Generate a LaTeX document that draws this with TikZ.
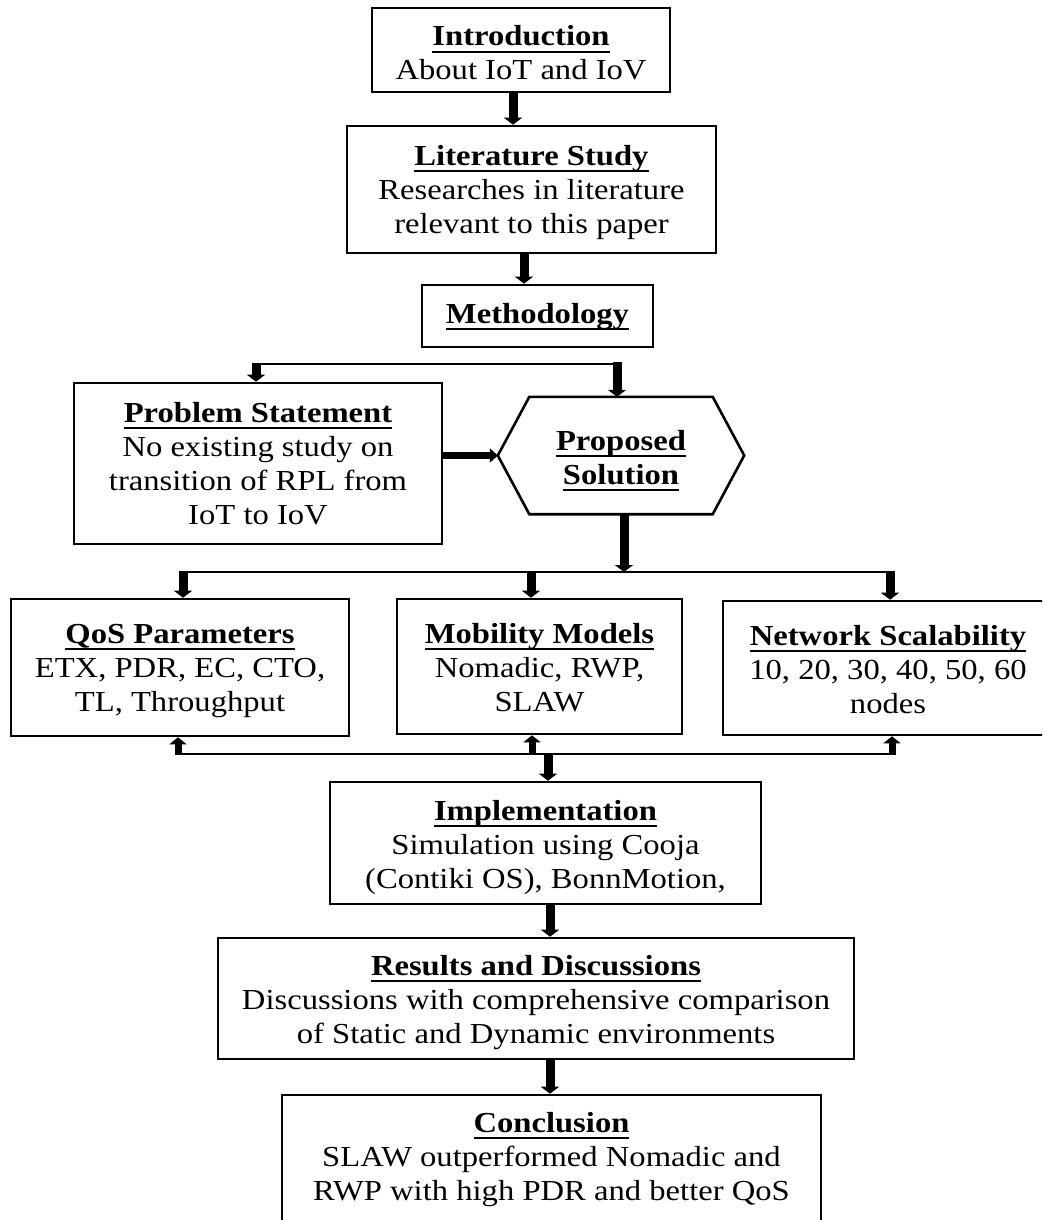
\documentclass[tikz,border=0pt]{standalone}
\usepackage{fontspec}
\setmainfont{Liberation Serif}[FakeStretch=1.125]
\usetikzlibrary{arrows.meta}

% bold heading with a fixed-depth underline
\newcommand\hd[1]{\setbox0\hbox{\bfseries #1}\rlap{\rule[-7pt]{\wd0}{2.2pt}}\box0}
% struts that fix the top of the first line and the bottom of the last one
\newcommand\tstr[1]{\rule{0pt}{#1pt}}
\newcommand\bstr{\rule[-8pt]{0pt}{8pt}}

\begin{document}
\begin{tikzpicture}[x=1pt,y=-1pt,
  font=\fontsize{29}{34}\selectfont,
  box/.style={draw, line width=2.6pt, inner sep=0pt, align=center},
  plain/.style={inner sep=0pt, align=center},
  link/.style={line width=2pt},
  arr/.style={line width=9pt, -{Triangle[width=18pt,length=7pt]}},
  uparr/.style={line width=7pt, -{Triangle[width=17pt,length=7pt]}},
  harr/.style={line width=7pt, -{Triangle[width=14pt,length=8pt]}}]

\clip (0,0) rectangle (1042,1220);
\fill[white] (0,0) rectangle (1042,1220);

% boxes
\node[box, minimum width=298pt, minimum height=84pt] (intro) at (521,50)
  {\tstr{34}\hd{Introduction}\\About IoT and IoV\bstr};
\node[box, minimum width=369pt, minimum height=127pt] (lit) at (531.5,189.5)
  {\tstr{27}\hd{Literature Study}\\Researches in literature\\relevant to this paper\bstr};
\node[box, minimum width=231pt, minimum height=62pt] (meth) at (537.5,316)
  {\tstr{22}\hd{Methodology}\bstr};
\node[box, minimum width=368pt, minimum height=161pt] (prob) at (258,463.5)
  {\tstr{27}\hd{Problem Statement}\\No existing study on\\transition of RPL from\\IoT to IoV\bstr};
\node[plain, minimum width=246pt, minimum height=117pt] (sol) at (621,455.5)
  {\tstr{31}\hd{Proposed}\\\hd{Solution}\bstr};
\draw[line width=2.6pt, line join=miter]
  ([xshift=31.5pt]sol.north west) -- ([xshift=-31.5pt]sol.north east) -- (sol.east)
  -- ([xshift=-31.5pt]sol.south east) -- ([xshift=31.5pt]sol.south west) -- (sol.west) -- cycle;
\node[box, minimum width=338pt, minimum height=137pt] (qos) at (180,667.5)
  {\tstr{27}\hd{QoS Parameters}\\ETX, PDR, EC, CTO,\\TL, Throughput\bstr};
\node[box, minimum width=285pt, minimum height=135pt] (mob) at (539.5,666.5)
  {\tstr{29}\hd{Mobility Models}\\Nomadic, RWP,\\SLAW\bstr};
\node[box, minimum width=330pt, minimum height=134pt] (net) at (888,668)
  {\tstr{30}\hd{Network Scalability}\\10, 20, 30, 40, 50, 60\\nodes\bstr};
\node[box, minimum width=431pt, minimum height=122pt] (impl) at (545.5,843)
  {\tstr{30}\hd{Implementation}\\Simulation using Cooja\\(Contiki OS), BonnMotion,\bstr};
\node[box, minimum width=636pt, minimum height=121pt] (res) at (536,998.5)
  {\tstr{29}\hd{Results and Discussions}\\Discussions with comprehensive comparison\\of Static and Dynamic environments\bstr};
\node[box, minimum width=539pt, minimum height=130pt] (conc) at (551.5,1160)
  {\tstr{20}\hd{Conclusion}\\SLAW outperformed Nomadic and\\RWP with high PDR and better QoS\bstr};

% main vertical flow
\coordinate (c1) at (513,0);
\coordinate (c2) at (524,0);
\coordinate (c3) at (550,0);
\draw[arr] (intro.south -| c1) -- (lit.north -| c1);
\draw[arr] (lit.south -| c2) -- (meth.north -| c2);
\draw[arr] (impl.south -| c3) -- (res.north -| c3);
\draw[arr] (res.south -| c3) -- (conc.north -| c3);

% split into problem statement and proposed solution
\coordinate (s1L) at (256,364);
\coordinate (s1R) at (617,364);
\draw[link] (s1L) -- (s1R);
\draw[arr] ([yshift=1pt]s1L) -- (s1L |- prob.north);
\draw[arr] ([yshift=2pt]s1R) -- (s1R |- sol.north);
\draw[harr] (prob.east |- sol.west) -- (sol.west);

% split into the three study dimensions
\coordinate (s2) at (624,572);
\coordinate (s2L) at (183,572);
\coordinate (s2M) at (531,572);
\coordinate (s2R) at (890,572);
\draw[arr] (sol.south -| s2) -- (s2);
\draw[link] (s2L) -- (s2R);
\draw[arr] ([yshift=1pt]s2L) -- (s2L |- qos.north);
\draw[arr] ([yshift=1pt]s2M) -- (s2M |- mob.north);
\draw[arr] ([yshift=1pt]s2R) -- (s2R |- net.north);

% joining bracket below the three boxes
\coordinate (s3L) at (178,754);
\coordinate (s3M) at (532,754);
\coordinate (s3R) at (892,754);
\coordinate (s3D) at (548,754);
\draw[link] (s3L) -- (s3R);
\draw[uparr] ([yshift=-1pt]s3L) -- (s3L |- qos.south);
\draw[uparr] ([yshift=-1pt]s3M) -- (s3M |- mob.south);
\draw[uparr] ([yshift=-1pt]s3R) -- (s3R |- net.south);
\draw[arr] ([yshift=1pt]s3D) -- (s3D |- impl.north);
\end{tikzpicture}
\end{document}
